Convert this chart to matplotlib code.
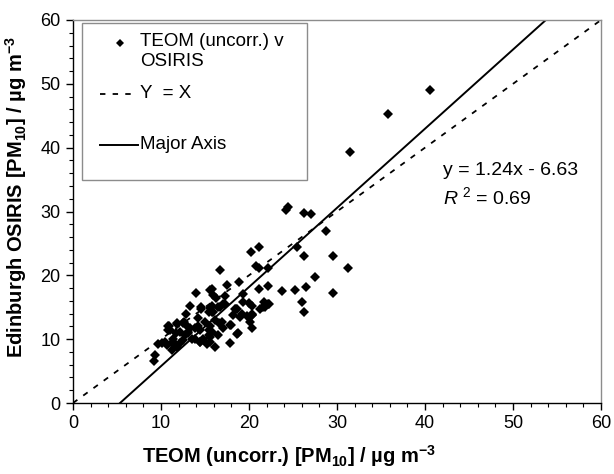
import matplotlib
matplotlib.use("Agg")
import matplotlib.pyplot as plt
import numpy as np
from matplotlib.lines import Line2D
from matplotlib.patches import Rectangle
from matplotlib.ticker import MultipleLocator

plt.rcParams['font.family'] = ['Liberation Sans', 'DejaVu Sans']
plt.rcParams['mathtext.fontset'] = 'custom'
plt.rcParams['mathtext.rm'] = 'Liberation Sans'
plt.rcParams['mathtext.it'] = 'Liberation Sans:italic'
plt.rcParams['mathtext.bf'] = 'Liberation Sans:bold'

# TEOM (uncorr.) vs OSIRIS scatter values (ug m-3)
teom = [40.6, 35.8, 31.5, 24.2, 24.4, 26.25, 27.1, 28.7, 25.5, 26.25, 29.5, 31.2,
        27.5, 26.5, 25.2, 23.7, 29.5, 26.0, 26.25, 22.2, 21.1, 20.2, 21.1, 20.8,
        21.1, 22.2, 16.7, 18.9, 17.5, 15.8, 14.0, 15.9, 17.3, 19.3, 16.25, 13.3,
        14.6, 15.8, 16.7, 17.3, 19.35, 20.3, 21.25, 21.8, 22.2, 18.5, 18.2, 19.2,
        20.3, 15.8, 14.2, 12.8, 9.2, 9.3, 9.7, 10.45, 10.8, 11.0, 11.2, 11.4,
        11.6, 11.8, 11.7, 12.2, 12.6, 13.0, 13.1, 13.5, 13.9, 14.25, 14.6, 14.4,
        15.0, 15.2, 15.5, 15.5, 15.6, 16.1, 16.5, 16.9, 17.1, 17.8, 18.0, 18.4,
        18.8, 20.1, 20.3, 20.3, 21.7, 22.3, 21.6, 20.3, 15.6, 15.6, 15.9, 18.6,
        20.0, 19.0, 19.8, 17.8, 18.6, 16.1, 16.6, 15.6, 13.9, 14.4, 13.3, 12.5,
        11.8, 10.9, 10.75, 12.2, 12.7, 13.1, 12.5, 11.4, 11.2, 10.65, 10.1, 11.8,
        14.8, 15.4, 15.6, 14.4, 15.75, 16.5, 17.1]
osiris = [49.0, 45.3, 39.3, 30.2, 30.7, 29.7, 29.6, 26.9, 24.4, 23.1, 23.0, 21.1,
          19.8, 18.1, 17.7, 17.5, 17.2, 15.8, 14.3, 18.3, 17.9, 23.7, 24.4, 21.5,
          21.2, 21.1, 20.9, 19.0, 18.5, 17.8, 17.2, 16.9, 16.8, 17.0, 16.4, 15.2,
          15.1, 15.2, 15.1, 15.5, 15.9, 15.25, 14.8, 15.1, 15.5, 14.7, 13.8, 13.9,
          13.8, 14.3, 13.3, 13.9, 6.6, 7.5, 9.2, 9.5, 12.1, 11.5, 8.3, 9.6,
          9.2, 12.4, 10.9, 9.45, 12.7, 12.0, 11.2, 10.1, 10.0, 12.1, 14.8, 9.6,
          12.7, 9.2, 11.5, 14.3, 10.3, 8.8, 15.1, 12.7, 15.5, 9.35, 12.2, 14.8,
          10.9, 12.7, 11.7, 13.8, 15.9, 15.5, 15.0, 13.9, 17.7, 14.9, 14.3, 14.8,
          15.6, 13.5, 13.7, 12.2, 10.8, 13.0, 12.5, 12.0, 11.7, 11.4, 11.7, 12.5,
          12.5, 12.0, 11.4, 11.2, 10.65, 10.9, 9.9, 10.1, 9.35, 9.1, 9.35, 8.8,
          10.1, 10.65, 9.6, 9.6, 11.2, 10.65, 11.7]

# Major axis regression: y = slope * x + intercept
slope = 1.24
intercept = -6.63
r2 = 0.69
axis_min, axis_max = 0, 60

fig = plt.figure(figsize=(6.14, 4.74), dpi=100)
ax = fig.add_axes([73/614, 1-403/474, 528/614, 383/474])

ax.plot(teom, osiris, linestyle='none', marker='D', markersize=4.8,
        color='black', markeredgewidth=0, zorder=3)

# Y = X
xx = np.array([axis_min, axis_max])
ax.plot(xx, xx, linestyle=(0, (3, 4)), color='black', lw=1.3, zorder=2)
# Major axis
x0 = (axis_min - intercept) / slope
x1 = (axis_max - intercept) / slope
ax.plot([x0, x1], [slope*x0 + intercept, slope*x1 + intercept],
        color='black', lw=1.4, zorder=2)

ax.set_xlim(axis_min, axis_max)
ax.set_ylim(axis_min, axis_max)
ax.xaxis.set_major_locator(MultipleLocator(10))
ax.yaxis.set_major_locator(MultipleLocator(10))
ax.xaxis.set_minor_locator(MultipleLocator(2))
ax.yaxis.set_minor_locator(MultipleLocator(2))
ax.tick_params(which='major', direction='out', length=5, width=1, labelsize=13, pad=4)
ax.tick_params(which='minor', direction='out', length=3, width=0.8)
for s in ['left', 'bottom']:
    ax.spines[s].set_color('black')
    ax.spines[s].set_linewidth(1.0)
for s in ['top', 'right']:
    ax.spines[s].set_color('#8c8c8c')
    ax.spines[s].set_linewidth(1.0)

ax.set_xlabel(r'TEOM (uncorr.) [PM$_\mathbf{10}$] / µg m$^\mathbf{-3}$',
              fontsize=14.5, fontweight='bold')
ax.xaxis.set_label_coords(0.409, -0.105)
ax.set_ylabel(r'Edinburgh OSIRIS [PM$_\mathbf{10}$] / µg m$^\mathbf{-3}$',
              fontsize=14.5, fontweight='bold')
ax.yaxis.set_label_coords(-0.084, 0.538)

ax.text(42.05, 36.5, f'y = {slope:.2f}x - {abs(intercept):.2f}', fontsize=14,
        va='center', ha='left')
ax.text(42.05, 32.3, r'$R^{\ 2}$' + f' = {r2:.2f}', fontsize=14, va='center', ha='left')

# Legend (drawn manually to reproduce spacing)
tr = ax.transAxes
ax.add_patch(Rectangle((0.017, 0.582), 0.426, 0.410, transform=tr, fill=True,
                       facecolor='white', edgecolor='#8c8c8c', lw=1.0, zorder=4))
ax.add_line(Line2D([0.089], [0.940], transform=tr, marker='D', markersize=4.5,
                   color='black', markeredgewidth=0, zorder=5))
ax.text(0.127, 0.917, 'TEOM (uncorr.) v\nOSIRIS', transform=tr, fontsize=13.5,
        va='center', ha='left', zorder=5, linespacing=1.2)
ax.add_line(Line2D([0.051, 0.114], [0.807, 0.807], transform=tr,
                   linestyle=(0, (3, 4)), color='black', lw=1.3, zorder=5))
ax.text(0.127, 0.807, 'Y  = X', transform=tr, fontsize=13.5, va='center',
        ha='left', zorder=5)
ax.add_line(Line2D([0.051, 0.123], [0.674, 0.674], transform=tr,
                   color='black', lw=1.4, zorder=5))
ax.text(0.127, 0.676, 'Major Axis', transform=tr, fontsize=13.5, va='center',
        ha='left', zorder=5)

fig.savefig('out.png', dpi=100)
